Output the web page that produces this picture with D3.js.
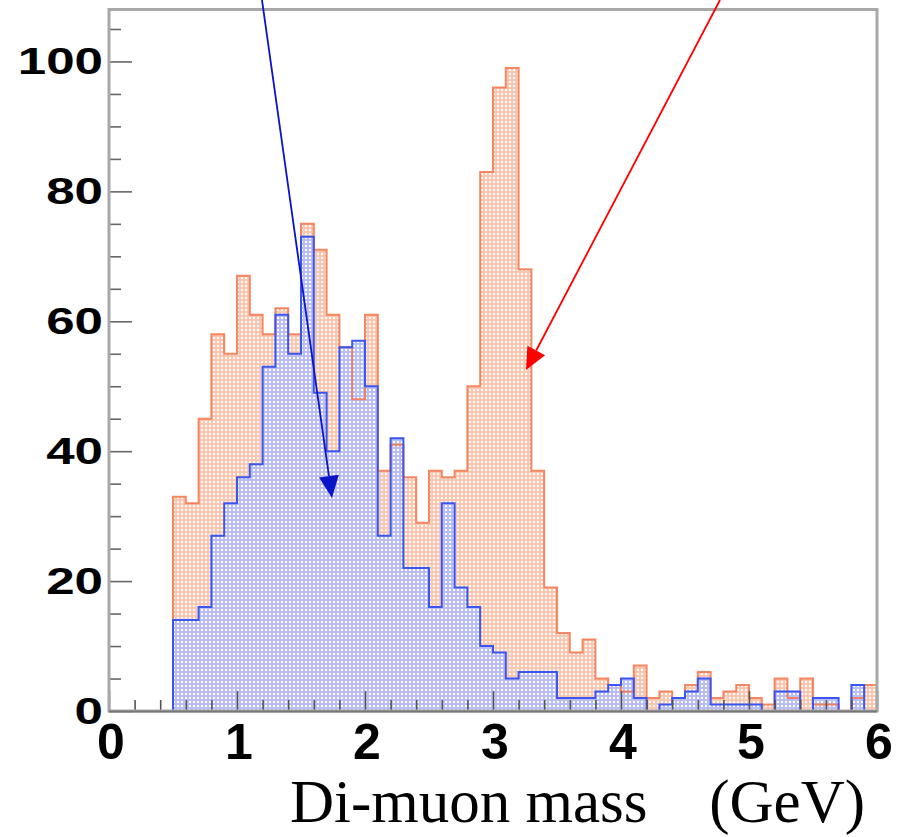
<!DOCTYPE html>
<html>
<head>
<meta charset="utf-8">
<script src="https://cdn.jsdelivr.net/npm/d3@7"></script>
<style>
  html, body { margin: 0; padding: 0; background: #fff; }
  svg { display: block; }
</style>
</head>
<body>
<svg id="chart" width="897" height="837"></svg>
<script>
// ---- data (bins of 0.1 GeV starting at 0.5 GeV) ----
const binWidth = 0.1;
const firstBinLow = 0.5;
const orangeCounts = [33, 32, 45, 58, 55, 67, 61, 58, 62, 58,
                      75, 71, 61, 56, 48, 61, 37, 41, 36, 29,
                      37, 36, 37, 50, 83, 96, 99, 68, 37, 19,
                      12, 9, 11, 5, 4, 3, 7, 2, 3, 2,
                      4, 6, 2, 3, 4, 2, 1, 5, 2, 5,
                      1, 1, 0, 2, 4];
const blueCounts   = [14, 14, 16, 27, 32, 36, 38, 53, 61, 55,
                      73, 49, 40, 56, 57, 50, 27, 42, 22, 22,
                      16, 32, 19, 16, 10, 9, 5, 6, 6, 6,
                      2, 2, 2, 3, 4, 5, 2, 0, 1, 2,
                      3, 5, 1, 1, 1, 1, 0, 3, 3, 0,
                      2, 2, 0, 4, 0];
const xTickLabels = ["0", "1", "2", "3", "4", "5", "6"];
const yTickLabels = ["0", "20", "40", "60", "80", "100"];
const xTitle = ["Di-muon mass", "(GeV)"];

// ---- layout ----
const svg = d3.select("#chart");
const L = 109, R = 877, T = 9.5, B = 711;
const x = d3.scaleLinear().domain([0, 6]).range([L, R]);
const y = d3.scaleLinear().domain([0, 108]).range([B, T]);

const defs = svg.append("defs");
function dotPattern(id, base) {
  const p = defs.append("pattern").attr("id", id)
    .attr("width", 4).attr("height", 4).attr("patternUnits", "userSpaceOnUse");
  p.append("rect").attr("width", 4).attr("height", 4).attr("fill", base);
  p.append("rect").attr("x", 1).attr("y", 1).attr("width", 2).attr("height", 2).attr("fill", "#ffffff");
}
dotPattern("pOrange", "#fbc6b0");
dotPattern("pBlue", "#b3bcf8");

svg.append("rect").attr("width", 897).attr("height", 837).attr("fill", "#fff");

function stepPoints(counts) {
  const pts = [];
  counts.forEach((c, i) => {
    const lo = firstBinLow + i * binWidth;
    pts.push([lo, c], [lo + binWidth, c]);
  });
  return pts;
}
const area = d3.area().x(d => x(d[0])).y0(y(0)).y1(d => y(d[1]));
const line = d3.line().x(d => x(d[0])).y(d => y(d[1]));

const oPts = stepPoints(orangeCounts);
const bPts = stepPoints(blueCounts);
const orangeStroke = "#f4744a";
const blueStroke = "#3b55f0";

// orange histogram
svg.append("path").attr("d", area(oPts)).attr("fill", "url(#pOrange)");
// blue histogram fill
svg.append("path").attr("d", area(bPts)).attr("fill", "url(#pBlue)").attr("opacity", 0.92);
// outlines
const oOutline = [[oPts[0][0], 0], ...oPts, [oPts[oPts.length - 1][0], 0]];
svg.append("path").attr("d", line(oOutline)).attr("fill", "none")
  .attr("stroke", orangeStroke).attr("stroke-width", 2).attr("opacity", 0.85);
const bOutline = [[0, 0], [firstBinLow, 0], ...bPts, [6, 0]];
svg.append("path").attr("d", line(bOutline)).attr("fill", "none")
  .attr("stroke", blueStroke).attr("stroke-width", 2);

// ---- axes ----
// x ticks: every 0.2 GeV, major at integers
const xAxis = d3.axisBottom(x).tickValues(d3.range(0, 31).map(i => i * 0.2)).tickFormat("");
const gx = svg.append("g").attr("transform", `translate(0,${B})`).call(xAxis);
gx.select(".domain").remove();
gx.selectAll(".tick line")
  .attr("y2", (d) => Math.abs(d - Math.round(d)) < 1e-6 ? -20 : -11)
  .attr("stroke", "#555").attr("stroke-width", 1.6);

// y ticks: every 5, major every 20
const yAxis = d3.axisLeft(y).tickValues(d3.range(0, 106, 5)).tickFormat("");
const gy = svg.append("g").attr("transform", `translate(${L},0)`).call(yAxis);
gy.select(".domain").remove();
gy.selectAll(".tick line")
  .attr("x2", d => d % 20 === 0 ? 23 : 12)
  .attr("stroke", "#666").attr("stroke-width", 1.6);

// frame
svg.append("rect").attr("x", L).attr("y", T).attr("width", R - L).attr("height", B - T)
  .attr("fill", "none").attr("stroke", "#a8a8a8").attr("stroke-width", 3);
svg.append("line").attr("x1", L).attr("x2", R).attr("y1", B + 0.5).attr("y2", B + 0.5)
  .attr("stroke", "#777").attr("stroke-width", 2);

// tick labels
svg.append("g").selectAll("text").data(xTickLabels).join("text")
  .attr("x", d => x(+d) + 2).attr("y", 759)
  .attr("text-anchor", "middle")
  .attr("font-family", "Liberation Sans, Arial, sans-serif").attr("font-weight", "bold")
  .attr("font-size", 50).attr("fill", "#000")
  .text(d => d);

svg.append("g").selectAll("text").data(yTickLabels).join("text")
  .attr("transform", d => `translate(103,${y(+d) + 13}) scale(1.38,1)`)
  .attr("text-anchor", "end")
  .attr("font-family", "Liberation Sans, Arial, sans-serif").attr("font-weight", "bold")
  .attr("font-size", 37).attr("fill", "#000")
  .text(d => d);

// axis title
const tt = svg.append("text").attr("y", 822)
  .attr("font-family", "Liberation Serif, 'Times New Roman', serif")
  .attr("font-size", 61).attr("fill", "#000");
tt.append("tspan").attr("x", 290).text(xTitle[0]);
tt.append("tspan").attr("x", 865).attr("text-anchor", "end").text(xTitle[1]);

// ---- arrows ----
function arrow(x1, y1, x2, y2, color) {
  const ang = Math.atan2(y2 - y1, x2 - x1);
  const len = 22, half = 10;
  const bx = x2 - len * Math.cos(ang), by = y2 - len * Math.sin(ang);
  svg.append("line").attr("x1", x1).attr("y1", y1).attr("x2", bx).attr("y2", by)
    .attr("stroke", color).attr("stroke-width", 1.8);
  const px = -Math.sin(ang), py = Math.cos(ang);
  svg.append("path")
    .attr("d", `M${x2},${y2}L${bx + half * px},${by + half * py}L${bx - half * px},${by - half * py}Z`)
    .attr("fill", color);
}
arrow(262, 0, 332, 498, "#0a14c8");
arrow(720, 0, 526, 370, "#ff0000");
</script>
</body>
</html>
